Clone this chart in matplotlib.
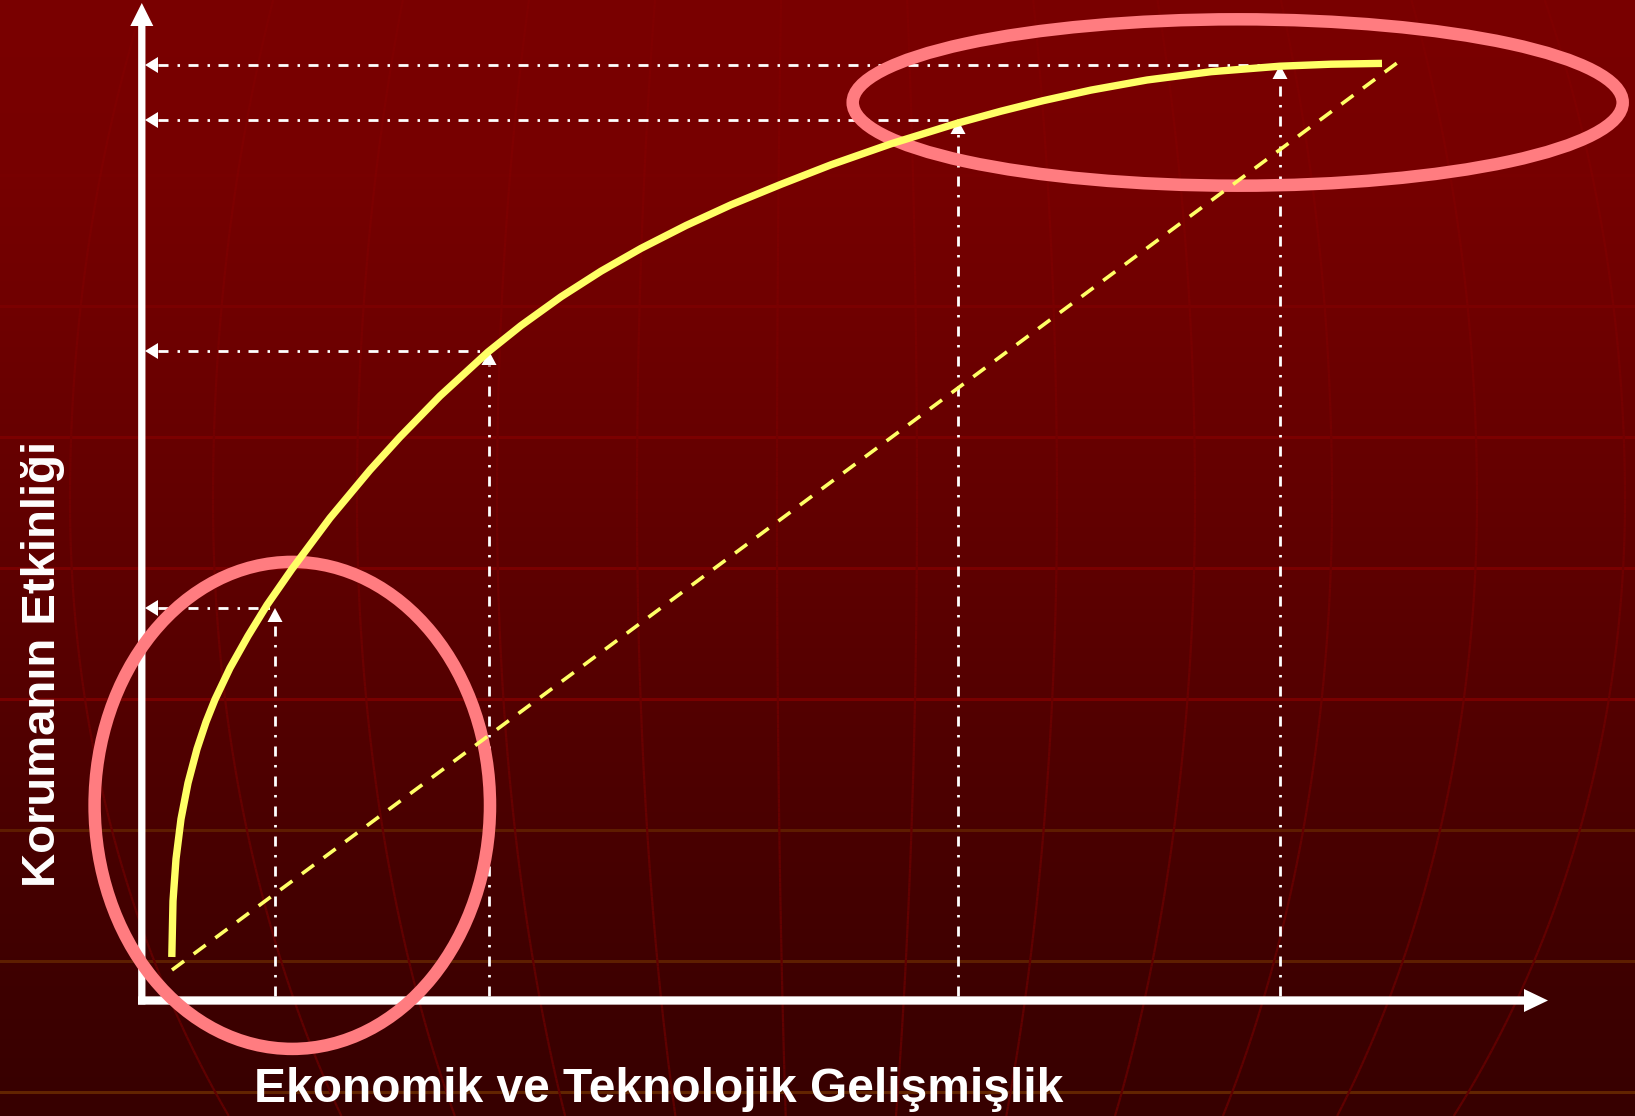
import numpy as np
import matplotlib
matplotlib.use("Agg")
import matplotlib.pyplot as plt
from matplotlib.patches import Ellipse, FancyArrow
from matplotlib.collections import LineCollection

plt.rcParams['lines.scale_dashes'] = False
plt.rcParams['font.family'] = ['Liberation Sans', 'DejaVu Sans']

# ---------------- data (units: pixels from the axes corner) ----------------
X_LABEL = "Ekonomik ve Teknolojik Gelişmişlik"
Y_LABEL = "Korumanın Etkinliği"

X_AXIS_END = 1407
Y_AXIS_END = 997

CURVE_X = [30.8, 32, 35, 40, 47, 56, 65, 74, 89, 107, 126, 151, 189, 229, 259,
           299, 347, 380, 420, 460, 500, 545, 590, 640, 690, 750, 817, 860, 902,
           950, 1006, 1070, 1139, 1190, 1241]
CURVE_Y = [43, 99, 141, 181, 217, 251, 278, 300.5, 332, 364, 395, 431, 482, 530,
           563, 604, 648, 674.4, 703.2, 728.8, 751.6, 774.5, 795.2, 815.7, 835.2,
           856.2, 877, 888.8, 899.3, 909.9, 920, 928.3, 933.8, 935.8, 936.6]

DIAG_X = [31, 1256]
DIAG_Y = [30, 937]

PROJ_X = [134, 348, 817, 1139]
PROJ_Y = [392, 649, 880, 935]

ELLIPSE_CX = [151.3, 1096.7]
ELLIPSE_CY = [194.6, 897.5]
ELLIPSE_W = [395.4, 770]
ELLIPSE_H = [487, 166.4]

# background decoration (pixel rows from top)
BG_STOP_Y = [0, 170, 300, 440, 570, 700, 800, 900, 1000, 1116]
BG_STOP_R = [122, 119, 112, 103, 94, 84, 76, 68, 61, 55]
GRID_ROWS = [174.5, 305.7, 436.7, 567.7, 699, 830, 961, 1092]
GRID_COLORS = ['#780000', '#7a0000', '#7b0000', '#7a0000', '#780000',
               '#5e1c00', '#5e1e00', '#622400']
MERIDIAN_X = [70, 213, 357, 497, 637, 777, 917, 1057, 1195, 1332, 1477, 1625]

# ---------------- figure ----------------
W, H = 1635, 1116
OX, OY = 141, 1000
fig = plt.figure(figsize=(W / 100, H / 100), dpi=100)
ax = fig.add_axes([0, 0, 1, 1])
ax.set_xlim(-OX, W - OX)
ax.set_ylim(OY - H, OY)
ax.axis('off')


def bg_red(py):
    return np.interp(py, BG_STOP_Y, BG_STOP_R) / 255.0


rows = np.arange(H) + 0.5
img = np.zeros((H, 1, 3))
img[:, 0, 0] = bg_red(rows)
ax.imshow(img, extent=(-OX, W - OX, OY - H, OY), aspect='auto',
          origin='upper', interpolation='bilinear', zorder=0)

for py, c in zip(GRID_ROWS, GRID_COLORS):
    ax.axhline(OY - py, color=c, lw=2.2, zorder=1)

# globe-like meridians
cx, cy, ry_top, ry_bot = 818.0, 500.0, 1150.0, 1000.0
ys = np.linspace(0, H, 240)
ry = np.where(ys < cy, ry_top, ry_bot)
f = np.sqrt(np.clip(1 - ((ys - cy) / ry) ** 2, 0, 1))
delta = np.interp(ys, [0, 500, 1116], [4, 12, 40]) / 255.0
for xe in MERIDIAN_X:
    xs = cx + (xe - cx) * f
    pts = np.column_stack([xs - OX, OY - ys])
    segs = np.stack([pts[:-1], pts[1:]], axis=1)
    mid = 0.5 * (ys[:-1] + ys[1:])
    r = np.clip(bg_red(mid) + 0.5 * (delta[:-1] + delta[1:]), 0, 1)
    cols = np.column_stack([r, np.zeros_like(r), np.zeros_like(r)])
    ax.add_collection(LineCollection(segs, colors=cols, linewidths=1.6, zorder=1))

# ---------------- projection lines ----------------
DASHDOT = (7.2, 6.5, 1.8, 6.1)
HL, HW = 13, 16      # horizontal arrow heads
VL, VW = 14, 15      # vertical arrow heads
for x, y in zip(PROJ_X, PROJ_Y):
    ax.plot([4 + HL, x], [y, y], color='white', lw=2.0, dashes=DASHDOT,
            solid_capstyle='butt', dash_capstyle='butt', zorder=2)
    ax.add_patch(FancyArrow(4 + HL, y, -HL, 0, width=0.01, head_width=HW,
                            head_length=HL, length_includes_head=True,
                            color='white', lw=0, zorder=2))
    ax.plot([x, x], [4, y - VL], color='white', lw=2.0, dashes=DASHDOT,
            dash_capstyle='butt', zorder=2)
    ax.add_patch(FancyArrow(x, y - VL, 0, VL, width=0.01, head_width=VW,
                            head_length=VL, length_includes_head=True,
                            color='white', lw=0, zorder=2))

# ---------------- axes arrows ----------------
ax.add_patch(FancyArrow(0.8, -4.5, 0, Y_AXIS_END + 4.5, width=7.3, head_width=23,
                        head_length=23, length_includes_head=True,
                        color='white', lw=0, zorder=2.5))
ax.add_patch(FancyArrow(-3, -0.5, X_AXIS_END + 3, 0, width=8.3, head_width=23,
                        head_length=24, length_includes_head=True,
                        color='white', lw=0, zorder=2.5))

# ---------------- ellipses ----------------
for ecx, ecy, ew, eh in zip(ELLIPSE_CX, ELLIPSE_CY, ELLIPSE_W, ELLIPSE_H):
    ax.add_patch(Ellipse((ecx, ecy), ew, eh, fill=False, edgecolor='#ff7c80',
                         lw=9.0, zorder=3))

# ---------------- yellow lines ----------------
ax.plot(DIAG_X, DIAG_Y, color='#ffff66', lw=2.6, dashes=(10.8, 8.6),
        dash_capstyle='butt', zorder=4)
ax.plot(CURVE_X, CURVE_Y, color='#ffff66', lw=5.3, solid_capstyle='butt',
        solid_joinstyle='round', zorder=5)

# ---------------- labels ----------------
ax.text(113, -102, X_LABEL, ha='left', va='baseline', fontsize=34.5,
        fontweight='bold', color='white', zorder=6)
ax.text(-86, 113, Y_LABEL, rotation=90, rotation_mode='anchor', ha='left',
        va='baseline', fontsize=34, fontweight='bold', color='white', zorder=6)

fig.savefig('out.png', dpi=100)
